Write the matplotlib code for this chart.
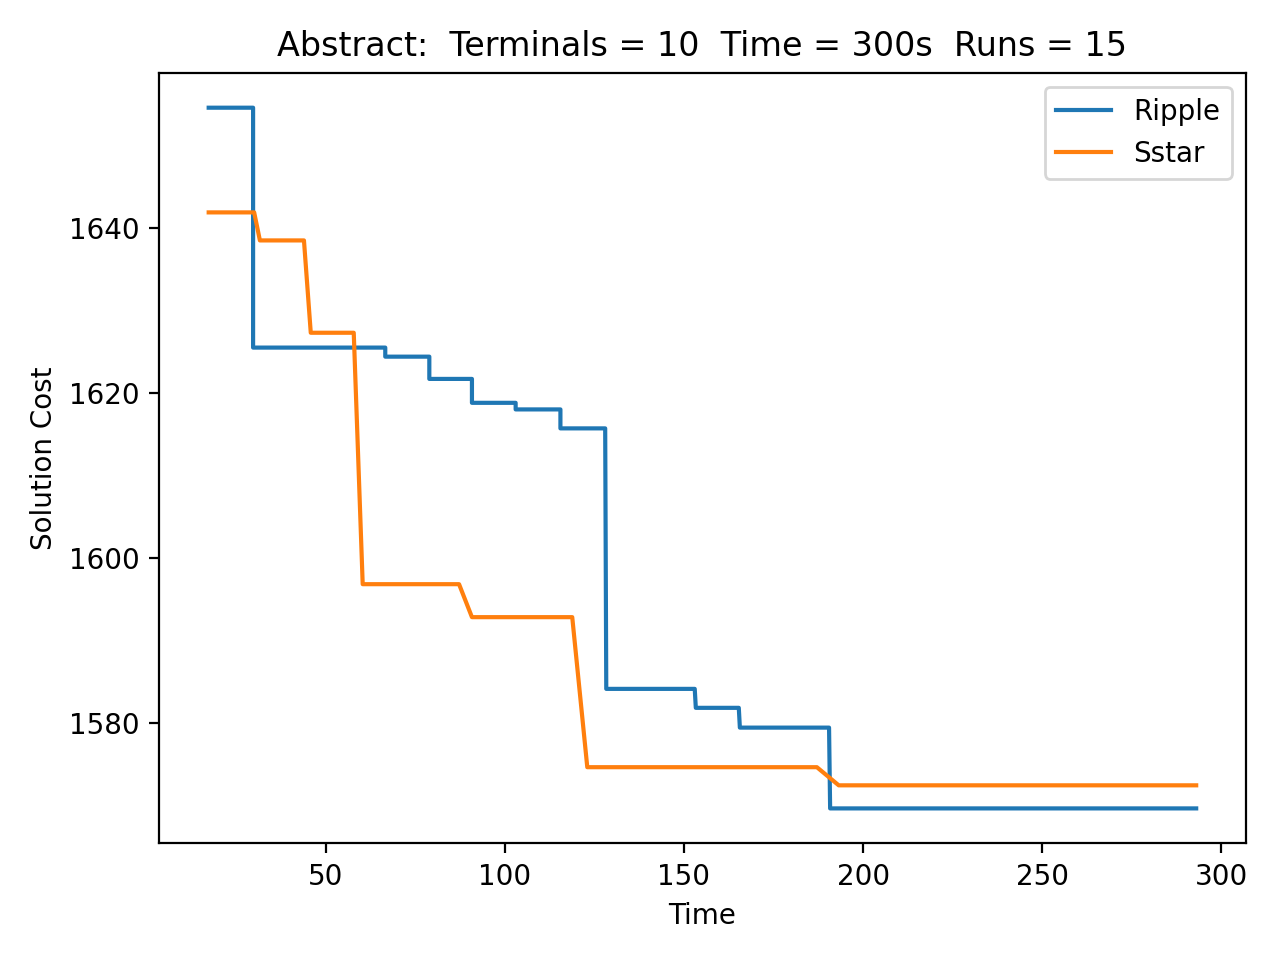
import matplotlib
matplotlib.use("Agg")
import matplotlib.pyplot as plt

ripple_t = [17.3, 29.7, 29.7, 66.6, 66.6, 78.9, 78.9, 90.8, 90.8, 103.0, 103.0, 115.5, 115.5, 128.0, 128.3, 153.0, 153.3, 165.3, 165.6, 190.5, 190.8, 293.0]
ripple_c = [1654.6, 1654.6, 1625.5, 1625.5, 1624.4, 1624.4, 1621.7, 1621.7, 1618.8, 1618.8, 1618.0, 1618.0, 1615.7, 1615.7, 1584.1, 1584.1, 1581.8, 1581.8, 1579.4, 1579.4, 1569.6, 1569.6]
sstar_t = [17.3, 30.0, 31.6, 43.9, 45.8, 57.8, 60.3, 87.2, 90.8, 118.8, 123.0, 187.1, 193.2, 293.0]
sstar_c = [1641.9, 1641.9, 1638.5, 1638.5, 1627.3, 1627.3, 1596.8, 1596.8, 1592.8, 1592.8, 1574.6, 1574.6, 1572.4, 1572.4]

fig, ax = plt.subplots(figsize=(6.4, 4.8), dpi=200)
ax.plot(ripple_t, ripple_c, label="Ripple")
ax.plot(sstar_t, sstar_c, label="Sstar")
ax.set_xlabel("Time")
ax.set_ylabel("Solution Cost")
ax.set_title("Abstract:  Terminals = 10  Time = 300s  Runs = 15")
ax.legend(loc="upper right")
fig.tight_layout()
fig.savefig("out.png")
